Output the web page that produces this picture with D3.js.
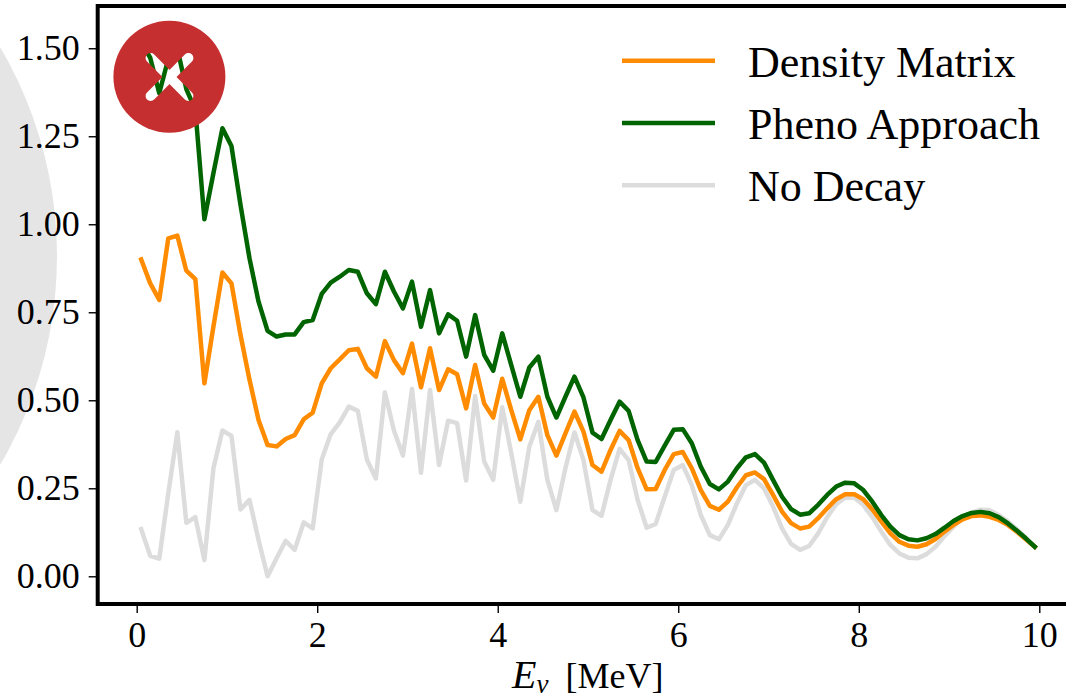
<!DOCTYPE html>
<html>
<head>
<meta charset="utf-8">
<script src="https://cdn.jsdelivr.net/npm/d3@7"></script>
<style>
  html, body { margin: 0; padding: 0; background: #fff; overflow: hidden; }
  svg { display: block; font-family: "Liberation Serif", serif; }
</style>
</head>
<body>
<div id="chart"></div>
<script>
// values
var energy = [
  0.05,0.15,0.25,0.35,0.45,0.55,0.65,0.75,0.85,0.95,
  1.05,1.15,1.25,1.35,1.45,1.55,1.65,1.75,1.85,1.95,
  2.05,2.15,2.25,2.35,2.45,2.55,2.65,2.75,2.85,2.95,
  3.05,3.15,3.25,3.35,3.45,3.55,3.65,3.75,3.85,3.95,
  4.05,4.15,4.25,4.35,4.45,4.55,4.65,4.75,4.85,4.95,
  5.05,5.15,5.25,5.35,5.45,5.55,5.65,5.75,5.85,5.95,
  6.05,6.15,6.25,6.35,6.45,6.55,6.65,6.75,6.85,6.95,
  7.05,7.15,7.25,7.35,7.45,7.55,7.65,7.75,7.85,7.95,
  8.05,8.15,8.25,8.35,8.45,8.55,8.65,8.75,8.85,8.95,
  9.05,9.15,9.25,9.35,9.45,9.55,9.65,9.75,9.85,9.95];

var density_matrix = [
  .900,.832,.785,.960,.968,.868,.844,.548,.709,.863,
  .832,.686,.558,.444,.373,.369,.390,.401,.446,.465,
  .548,.591,.616,.642,.646,.591,.567,.668,.614,.577,
  .661,.537,.648,.529,.588,.574,.477,.600,.491,.451,
  .561,.472,.389,.472,.510,.401,.343,.406,.468,.411,
  .316,.297,.359,.413,.387,.307,.247,.248,.302,.347,
  .353,.307,.245,.200,.189,.212,.253,.287,.295,.276,
  .231,.184,.151,.136,.141,.165,.193,.219,.233,.233,
  .219,.190,.155,.122,.098,.087,.084,.091,.106,.127,
  .146,.162,.171,.173,.169,.160,.146,.127,.105,.084];

var pheno_approach = [
  1.517,1.473,1.372,1.470,1.500,1.384,1.325,1.014,1.145,1.273,
  1.222,1.055,.903,.780,.697,.681,.687,.687,.722,.728,
  .802,.834,.851,.870,.865,.804,.773,.865,.809,.761,
  .837,.709,.813,.690,.744,.726,.624,.742,.629,.584,
  .690,.600,.510,.593,.624,.510,.451,.510,.567,.508,
  .408,.390,.444,.496,.470,.387,.326,.325,.371,.416,
  .418,.378,.311,.262,.247,.269,.307,.338,.347,.323,
  .274,.226,.191,.175,.179,.203,.231,.255,.266,.264,
  .245,.212,.174,.141,.117,.105,.102,.108,.120,.138,
  .157,.171,.180,.183,.179,.168,.151,.130,.108,.084];

var no_decay = [
  .134,.058,.050,.236,.409,.152,.168,.046,.307,.414,
  .399,.190,.217,.103,.000,.051,.101,.075,.153,.136,
  .332,.404,.437,.482,.470,.332,.278,.523,.414,.343,
  .532,.294,.529,.316,.442,.435,.272,.512,.326,.274,
  .480,.350,.212,.368,.439,.274,.188,.307,.409,.330,
  .188,.172,.274,.362,.330,.217,.138,.149,.226,.302,
  .316,.259,.174,.117,.105,.146,.207,.259,.274,.250,
  .198,.136,.092,.075,.086,.122,.168,.205,.224,.223,
  .203,.168,.127,.089,.065,.053,.051,.063,.084,.114,
  .141,.165,.181,.189,.188,.174,.156,.134,.109,.084];

var x_ticks = [0, 2, 4, 6, 8, 10];
var y_ticks = [0, 0.25, 0.5, 0.75, 1, 1.25, 1.5];
var legend_labels = ["Density Matrix", "Pheno Approach", "No Decay"];
var legend_colors = ["#ff8c00", "#006400", "#dcdcdc"];

var width = 1066, height = 698;
var plot = {left: 97.7, right: 1079, top: 6, bottom: 604};

var svg = d3.select("#chart")
  .append("svg")
    .attr("width", width)
    .attr("height", height);

// big grey disc behind the left edge
svg.append("circle")
    .attr("cx", -355)
    .attr("cy", 256)
    .attr("r", 412)
    .attr("fill", "#e5e5e5");

var x = d3.scaleLinear().domain([-0.432, 10.44]).range([plot.left, plot.right]);
var y = d3.scaleLinear().domain([-0.0787, 1.62]).range([plot.bottom, plot.top]);

var line = d3.line()
    .x(function(d) { return x(d[0]); })
    .y(function(d) { return y(d[1]); });

// Lines, grey first so the green ends on top
[[no_decay, "#dcdcdc"], [density_matrix, "#ff8c00"], [pheno_approach, "#006400"]].forEach(function(s) {
  svg.append("path")
      .datum(d3.zip(energy, s[0]))
      .attr("d", line)
      .attr("fill", "none")
      .attr("stroke", s[1])
      .attr("stroke-width", 4.5)
      .attr("stroke-linejoin", "round")
      .attr("stroke-linecap", "square");
});

// axes
var x_axis = svg.append("g")
    .attr("transform", "translate(0," + plot.bottom + ")")
    .call(d3.axisBottom(x).tickValues(x_ticks).tickFormat(d3.format("d")).tickSize(9).tickPadding(8));
var y_axis = svg.append("g")
    .attr("transform", "translate(" + plot.left + ",0)")
    .call(d3.axisLeft(y).tickValues(y_ticks).tickFormat(d3.format(".2f")).tickSize(9).tickPadding(9));

[x_axis, y_axis].forEach(function(a) {
  a.select(".domain").remove();
  a.selectAll("line").attr("stroke", "#000").attr("stroke-width", 1.4);
  a.selectAll("text")
    .attr("font-family", "Liberation Serif")
    .attr("font-size", 36)
    .attr("fill", "#000");
});

// frame, right side runs off the page
svg.append("rect")
    .attr("x", plot.left)
    .attr("y", plot.top)
    .attr("width", plot.right - plot.left)
    .attr("height", plot.bottom - plot.top)
    .attr("fill", "none")
    .attr("stroke", "#000")
    .attr("stroke-width", 4);

// x label
var x_label = svg.append("text")
    .attr("x", 512)
    .attr("y", 688)
    .attr("font-size", 36)
    .attr("fill", "#000");
x_label.append("tspan").attr("font-style", "italic").attr("font-size", 40).text("E");
x_label.append("tspan").attr("font-style", "italic").attr("font-size", 27).attr("dy", 5).text("ν");
x_label.append("tspan").attr("dy", -5).attr("dx", 17).text("[MeV]");

// legend
var legend = svg.selectAll(".legend")
    .data(legend_labels)
    .join("g")
    .attr("class", "legend")
    .attr("transform", function(d, i) { return "translate(622," + (60.7 + i * 62.3) + ")"; });

legend.append("line")
    .attr("x1", 0)
    .attr("x2", 93)
    .attr("stroke", function(d, i) { return legend_colors[i]; })
    .attr("stroke-width", 4.5);

legend.append("text")
    .text(function(d) { return d; })
    .attr("x", 126)
    .attr("y", 16)
    .attr("font-size", 44)
    .attr("fill", "#000");

// red badge, the cross is a hole so the chart shows through it
var defs = svg.append("defs");
var mask = defs.append("mask")
    .attr("id", "cross-hole")
    .attr("maskUnits", "userSpaceOnUse")
    .attr("x", 0).attr("y", 0)
    .attr("width", width).attr("height", height);
mask.append("rect").attr("width", width).attr("height", height).attr("fill", "#fff");
[[150.6, 58, 188.4, 96], [188.4, 58, 150.6, 96]].forEach(function(c) {
  mask.append("line")
      .attr("x1", c[0]).attr("y1", c[1])
      .attr("x2", c[2]).attr("y2", c[3])
      .attr("stroke", "#000")
      .attr("stroke-width", 10)
      .attr("stroke-linecap", "round");
});

svg.append("circle")
    .attr("cx", 169.4)
    .attr("cy", 76.7)
    .attr("r", 56)
    .attr("fill", "#c62f2f")
    .attr("mask", "url(#cross-hole)");
</script>
</body>
</html>
